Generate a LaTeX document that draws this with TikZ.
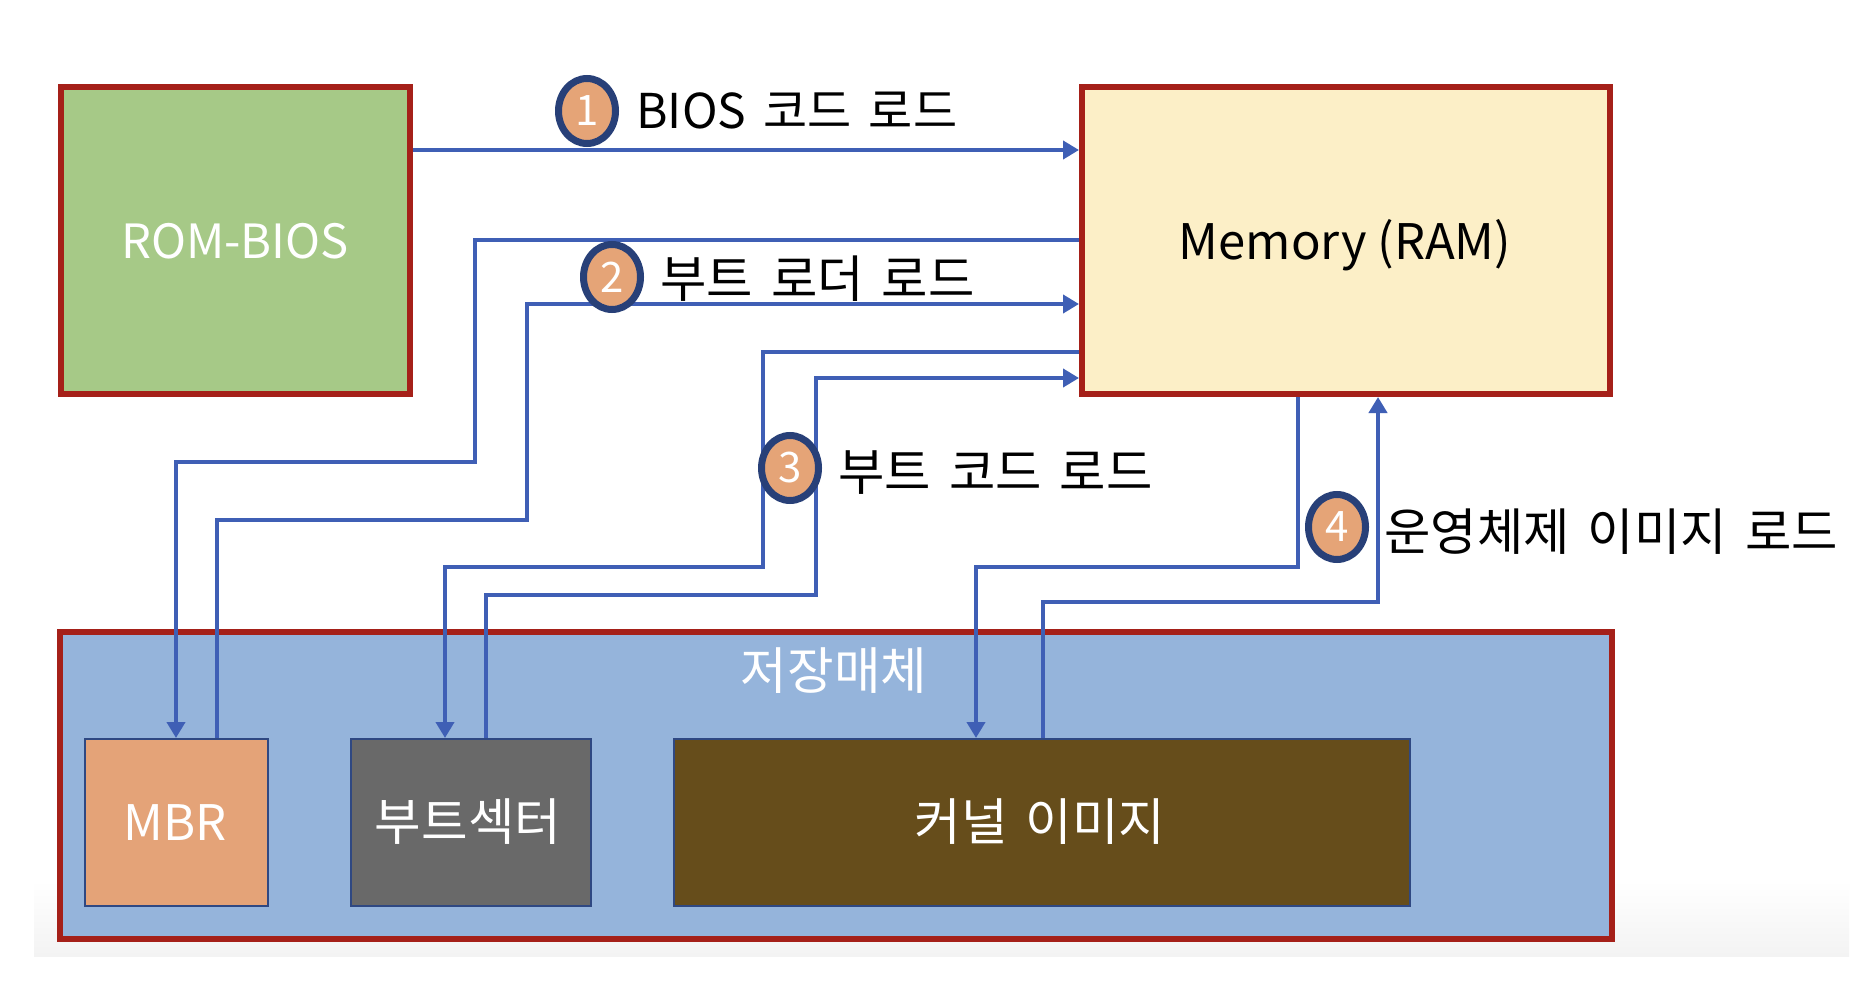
\documentclass[tikz,border=0pt]{standalone}
\usepackage{fontspec}
\setmainfont{Noto Sans CJK KR}
\newfontfamily\kr{Noto Sans CJK KR}[WordSpace=1.6]
\usetikzlibrary{arrows.meta,shapes.geometric}
\definecolor{redb}{RGB}{165,32,25}
\definecolor{romf}{RGB}{166,201,135}
\definecolor{memf}{RGB}{252,239,199}
\definecolor{stof}{RGB}{149,180,219}
\definecolor{mbrf}{RGB}{228,163,120}
\definecolor{bootf}{RGB}{105,105,105}
\definecolor{kerf}{RGB}{102,77,27}
\definecolor{innerb}{RGB}{47,72,130}
\definecolor{blueA}{RGB}{63,95,181}
\definecolor{circb}{RGB}{40,64,120}
\definecolor{circf}{RGB}{229,164,119}
\definecolor{shadowg}{RGB}{243,243,243}
\begin{document}
\begin{tikzpicture}[x=0.5pt,y=-0.5pt,
  bigbox/.style={draw=redb, line width=3pt, inner sep=0pt},
  subbox/.style={draw=innerb, line width=1pt, inner sep=0pt},
  arr/.style={draw=blueA, line width=2pt, -{Triangle[width=9pt,length=8pt]}},
  num/.style={ellipse, draw=circb, line width=3.5pt, fill=circf, minimum width=28.5pt, minimum height=32.5pt, inner sep=0pt, text=white, font=\fontsize{21}{21}\selectfont},
  steplbl/.style={anchor=base west, inner sep=0pt, font=\kr\fontsize{25.2}{29}\selectfont},
  latlbl/.style={anchor=base, inner sep=0pt, text=white, font=\fontsize{24.5}{28}\selectfont},
  krlbl/.style={anchor=base, inner sep=0pt, text=white, font=\kr\fontsize{25.3}{29}\selectfont}]
\useasboundingbox (0,0) rectangle (1862,984);
\fill[white] (0,0) rectangle (1862,984);
\shade[top color=white, bottom color=shadowg] (34,880) rectangle (1849,956);

% boxes
\node[bigbox, fill=romf, minimum width=174.5pt, minimum height=153.5pt] (rom) at (235.5,240.5) {};
\node[bigbox, fill=memf, minimum width=264pt, minimum height=153.5pt] (mem) at (1346,240.5) {};
\node[bigbox, fill=stof, minimum width=776pt, minimum height=153.5pt] (sto) at (836,785.5) {};
\node[subbox, fill=mbrf, minimum width=91.5pt, minimum height=83.5pt] (mbr) at (176.5,822.5) {};
\node[subbox, fill=bootf, minimum width=120pt, minimum height=83.5pt] (boot) at (471,822.5) {};
\node[subbox, fill=kerf, minimum width=368pt, minimum height=83.5pt] (kernel) at (1042,822.5) {};

% box labels
\node[latlbl, font=\fontsize{23.6}{28}\selectfont] (romlbl) at (235,258) {ROM-BIOS};
\node[latlbl, text=black] (memlbl) at (1345,260) {Memory (RAM)};
\node[latlbl] (mbrlbl) at (175,840) {MBR};
\node[krlbl] (bootlbl) at (468,840) {부트섹터};
\node[krlbl] (kerlbl) at (1040,840) {커널 이미지};
\node[krlbl] (stolbl) at (834,689) {저장매체};

% connectors
\draw[arr] (rom.east |- 0,150) -- (mem.west |- 0,150);
\draw[arr] (mem.west |- 0,240) -- (475,240) -- (475,462) -- (176,462) -- (mbr.north -| 176,0);
\draw[arr] (mbr.north -| 217,0) -- (217,520) -- (527,520) -- (527,304) -- (mem.west |- 0,304);
\draw[arr] (mem.west |- 0,352) -- (763,352) -- (763,567) -- (445,567) -- (boot.north -| 445,0);
\draw[arr] (boot.north -| 486,0) -- (486,595) -- (816,595) -- (816,378) -- (mem.west |- 0,378);
\draw[arr] (mem.south -| 1298,0) -- (1298,567) -- (976,567) -- (kernel.north -| 976,0);
\draw[arr] (kernel.north -| 1043,0) -- (1043,602) -- (1378,602) -- (mem.south -| 1378,0);

% step markers
\node[num] (n1) at (587,111) {1};
\node[num] (n2) at (612,277) {2};
\node[num] (n3) at (790,468) {3};
\node[num] (n4) at (1337,527) {4};

% step labels
\node[steplbl, font=\kr\fontsize{24}{28}\selectfont] (l1) at (636,129) {BIOS 코드 로드};
\node[steplbl] (l2) at (660,297) {부트 로더 로드};
\node[steplbl] (l3) at (838,490) {부트 코드 로드};
\node[steplbl] (l4) at (1384,550) {운영체제 이미지 로드};
\end{tikzpicture}
\end{document}
